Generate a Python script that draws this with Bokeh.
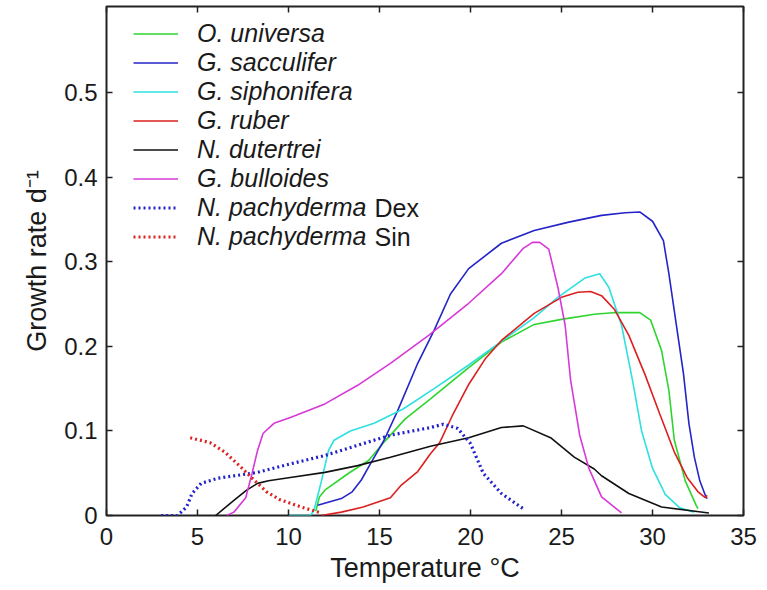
from bokeh.plotting import figure
from bokeh.models import Legend, LegendItem, LinearAxis, FixedTicker, Label, Range1d
from bokeh.embed import file_html
from bokeh.resources import INLINE

# ---------------- data ----------------
universa_T = [11.5, 11.7, 12.0, 13.3, 14.4, 15.3, 16.4, 17.8, 19.9, 21.7, 23.5, 25.0, 26.8, 28.0, 29.3, 29.9, 30.5, 30.9, 31.2, 31.8, 32.4, 32.5]
universa_g = [0.005, 0.022, 0.030, 0.050, 0.065, 0.088, 0.114, 0.138, 0.175, 0.205, 0.226, 0.232, 0.238, 0.240, 0.240, 0.231, 0.195, 0.148, 0.089, 0.041, 0.012, 0.008]

sacculifer_T = [11.6, 12.9, 13.5, 14.0, 14.5, 15.25, 16.0, 17.1, 18.0, 18.9, 19.9, 21.7, 23.5, 25.4, 27.2, 28.5, 29.3, 30.0, 30.6, 30.9, 31.3, 31.7, 32.0, 32.3, 32.6, 32.9, 33.0]
sacculifer_g = [0.012, 0.020, 0.028, 0.042, 0.061, 0.089, 0.124, 0.180, 0.219, 0.262, 0.292, 0.322, 0.337, 0.347, 0.355, 0.358, 0.359, 0.348, 0.325, 0.286, 0.227, 0.168, 0.109, 0.069, 0.041, 0.024, 0.020]

siphonifera_T = [10.0, 11.2, 11.4, 11.8, 12.2, 12.5, 13.4, 14.7, 16.3, 18.0, 19.9, 21.7, 23.5, 24.8, 26.3, 27.1, 27.6, 28.3, 28.9, 29.4, 30.0, 30.7, 31.5, 32.3]
siphonifera_g = [0.0, 0.0, 0.006, 0.040, 0.077, 0.089, 0.100, 0.109, 0.126, 0.150, 0.178, 0.206, 0.234, 0.258, 0.281, 0.286, 0.270, 0.225, 0.160, 0.100, 0.056, 0.025, 0.009, 0.004]

ruber_T = [11.8, 12.9, 14.1, 15.6, 16.2, 17.1, 17.8, 18.3, 19.0, 19.9, 20.8, 21.7, 23.5, 25.0, 25.9, 26.6, 27.2, 27.9, 28.7, 29.6, 30.4, 31.2, 31.9, 32.5, 32.9, 33.0]
ruber_g = [0.0, 0.004, 0.010, 0.021, 0.036, 0.052, 0.073, 0.086, 0.118, 0.155, 0.185, 0.207, 0.239, 0.258, 0.264, 0.265, 0.260, 0.244, 0.213, 0.166, 0.120, 0.075, 0.045, 0.028, 0.021, 0.024]

dutertrei_T = [6.0, 7.0, 7.7, 8.3, 8.9, 10.1, 12.0, 13.8, 15.6, 17.8, 19.9, 21.7, 22.9, 24.4, 25.7, 26.8, 27.2, 28.7, 30.5, 33.1]
dutertrei_g = [0.0, 0.018, 0.030, 0.038, 0.041, 0.045, 0.051, 0.059, 0.069, 0.082, 0.092, 0.104, 0.106, 0.092, 0.069, 0.055, 0.047, 0.026, 0.010, 0.003]

bulloides_T = [6.6, 7.0, 7.65, 8.0, 8.3, 8.6, 9.2, 10.1, 12.0, 13.8, 15.6, 17.7, 19.9, 21.7, 22.9, 23.4, 23.8, 24.3, 24.8, 25.2, 25.5, 26.0, 26.5, 27.2, 28.3]
bulloides_g = [0.0, 0.004, 0.021, 0.050, 0.077, 0.097, 0.109, 0.116, 0.132, 0.154, 0.180, 0.213, 0.251, 0.286, 0.316, 0.323, 0.323, 0.315, 0.270, 0.225, 0.160, 0.095, 0.056, 0.022, 0.003]

pachy_dex_T = [3.0, 3.9, 4.4, 4.7, 5.2, 6.1, 8.3, 10.1, 12.0, 13.8, 15.6, 17.8, 18.5, 19.3, 20.0, 20.7, 21.7, 22.9]
pachy_dex_g = [0.0, 0.0, 0.010, 0.026, 0.038, 0.044, 0.051, 0.061, 0.071, 0.083, 0.095, 0.104, 0.108, 0.103, 0.085, 0.050, 0.026, 0.008]

pachy_sin_T = [4.6, 5.7, 6.5, 7.4, 8.1, 8.8, 9.5, 10.7, 11.8]
pachy_sin_g = [0.092, 0.086, 0.075, 0.057, 0.042, 0.028, 0.019, 0.010, 0.003]

series_names = ["O. universa", "G. sacculifer", "G. siphonifera", "G. ruber",
                "N. dutertrei", "G. bulloides", "N. pachyderma", "N. pachyderma"]
series_suffix = ["", "", "", "", "", "", "Dex", "Sin"]

x_ticks = [0, 5, 10, 15, 20, 25, 30, 35]
y_ticks = [0, 0.1, 0.2, 0.3, 0.4, 0.5]
y_tick_labels = ["0", "0.1", "0.2", "0.3", "0.4", "0.5"]

# ---------------- figure ----------------
FONT = "Liberation Sans"
p = figure(width=767, height=590, output_backend="svg", toolbar_location=None,
           x_range=Range1d(0, 35), y_range=Range1d(0, 0.602),
           min_border_left=106, min_border_right=24, min_border_top=6, min_border_bottom=75,
           x_axis_label="Temperature \u00b0C", y_axis_label="Growth rate d\u207b\u00b9")
p.background_fill_color = "white"
p.border_fill_color = "white"
p.grid.visible = False
p.outline_line_color = "#222222"
p.outline_line_width = 2

def style_axis(ax, labels=True):
    ax.major_tick_in = 6
    ax.major_tick_out = 0
    ax.minor_tick_line_color = None
    ax.major_tick_line_color = "#222222"
    ax.major_tick_line_width = 1.5
    ax.axis_line_color = None
    if labels:
        ax.major_label_text_font = FONT
        ax.major_label_text_font_size = "24px"
        ax.major_label_text_color = "#1a1a1a"
        ax.axis_label_text_font = FONT
        ax.axis_label_text_font_size = "27px"
        ax.axis_label_text_font_style = "normal"
        ax.axis_label_text_color = "#1a1a1a"
    else:
        ax.major_label_text_font_size = "1px"
        ax.major_label_text_alpha = 0
        ax.major_label_standoff = 0

p.xaxis.ticker = FixedTicker(ticks=x_ticks)
p.yaxis.ticker = FixedTicker(ticks=y_ticks)
p.yaxis.major_label_overrides = {t: l for t, l in zip(y_ticks, y_tick_labels)}
style_axis(p.xaxis[0])
style_axis(p.yaxis[0])
p.xaxis.major_label_standoff = 12
p.xaxis.axis_label_standoff = 5
p.yaxis.major_label_standoff = 9
p.yaxis.axis_label_standoff = 9

top_ax = LinearAxis(ticker=FixedTicker(ticks=x_ticks),
                    major_label_overrides={t: "" for t in x_ticks})
right_ax = LinearAxis(ticker=FixedTicker(ticks=y_ticks),
                      major_label_overrides={t: "" for t in y_ticks})
style_axis(top_ax, labels=False)
style_axis(right_ax, labels=False)
p.add_layout(top_ax, "above")
p.add_layout(right_ax, "right")

# ---------------- lines ----------------
specs = [
    (universa_T, universa_g, "#2ed52e", None),
    (sacculifer_T, sacculifer_g, "#2424c8", None),
    (siphonifera_T, siphonifera_g, "#2ee0e0", None),
    (ruber_T, ruber_g, "#dc2020", None),
    (dutertrei_T, dutertrei_g, "#111111", None),
    (bulloides_T, bulloides_g, "#d838d8", None),
    (pachy_dex_T, pachy_dex_g, "#2222cc", "2 3"),
    (pachy_sin_T, pachy_sin_g, "#dd2222", "2 3"),
]
renderers = []
for xs, ys, col, dash in specs:
    if dash is None:
        r = p.line(xs, ys, line_color=col, line_width=1.6)
    else:
        r = p.line(xs, ys, line_color=col, line_width=3.2, line_dash=dash)
    renderers.append(r)

# ---------------- legend ----------------
ROW_H = 29
SPACING = 0
n = len(series_names)
leg_top = 496          # frame-relative (px from frame bottom)
leg_bottom = leg_top - (n * ROW_H + (n - 1) * SPACING)
legend = Legend(items=[LegendItem(label=nm, renderers=[r]) for nm, r in zip(series_names, renderers)],
                location=(27, leg_bottom))
legend.label_text_font = FONT
legend.label_text_font_style = "italic"
legend.label_text_font_size = "25px"
legend.label_text_color = "#1a1a1a"
legend.label_height = ROW_H
legend.glyph_height = ROW_H
legend.glyph_width = 45
legend.label_standoff = 19
legend.spacing = SPACING
legend.padding = 0
legend.margin = 0
legend.border_line_color = None
legend.background_fill_alpha = 0
p.add_layout(legend)

for i, suf in enumerate(series_suffix):
    if suf:
        yc = leg_top - ROW_H / 2 - i * (ROW_H + SPACING)
        p.add_layout(Label(x=268, y=yc, x_units="screen", y_units="screen", text=suf,
                           text_font=FONT, text_font_size="25px", text_baseline="middle",
                           text_color="#1a1a1a"))

open("out.html", "w").write(file_html(p, INLINE))
